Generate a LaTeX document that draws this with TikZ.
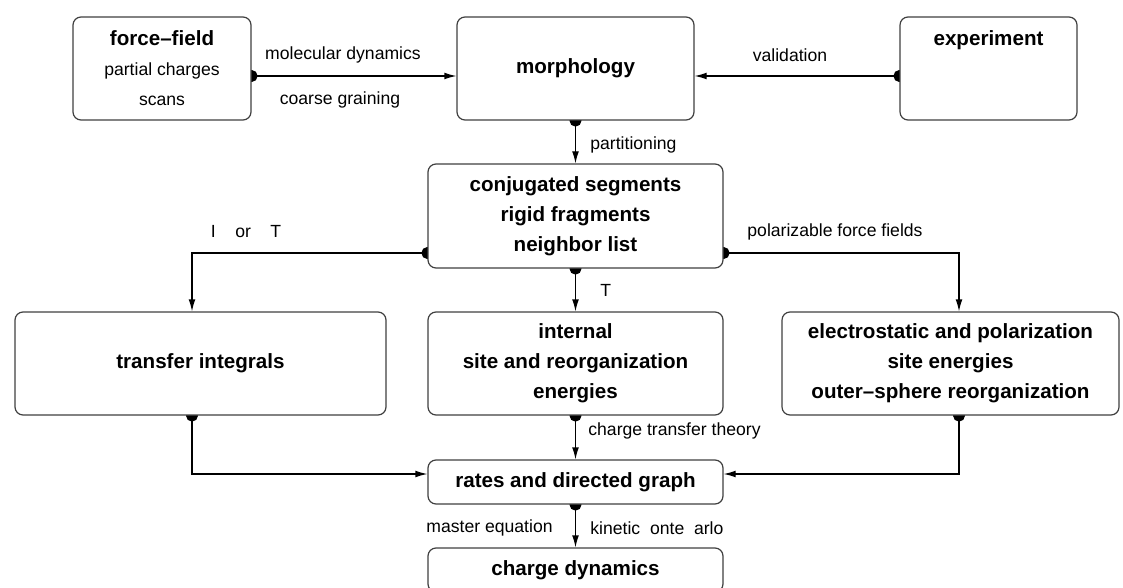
\documentclass[tikz,border=0pt]{standalone}
\usepackage{fontspec}
\setmainfont{Liberation Sans}
\usetikzlibrary{arrows.meta,calc,positioning,backgrounds}

\begin{document}
\begin{tikzpicture}[x=0.5pt,y=-0.5pt,
    box/.style={draw=black!75, line width=0.6pt, rounded corners=4pt, fill=white,
        align=center, inner sep=0pt,
        font=\fontsize{10.3}{15}\selectfont\bfseries},
    lbl/.style={inner sep=0pt, font=\fontsize{8.8}{11}\selectfont},
    conn/.style={line width=0.6pt, shorten <=-3pt,
        {Circle[length=6pt]}-{Latex[length=6pt,width=3.4pt]}}]

\def\bw{147.5pt}
\def\bh{51.5pt}
\newcommand{\plain}[1]{{\mdseries\fontsize{8.8}{15}\selectfont #1}}

\useasboundingbox (0,0) rectangle (1123,588);

% top row
\node[box, minimum width=89pt, minimum height=\bh] (ff) at (162,68.5)
    {force--field\\ \plain{partial charges}\\ \plain{scans}};
\node[box, minimum width=118.5pt, minimum height=\bh] (morph) at (575.5,68.5) {morphology};
\node[box, minimum width=88.5pt, minimum height=\bh] (exp) at (988.5,68.5)
    {experiment\\ \phantom{x}\\ \phantom{x}};

% segments
\node[box, minimum width=\bw, minimum height=52pt] (seg) at (575.5,216)
    {conjugated segments\\ rigid fragments\\ neighbor list};

% middle row
\node[box, minimum width=185.5pt, minimum height=\bh] (trans) at (200.5,363.5) {transfer integrals};
\node[box, minimum width=\bw, minimum height=\bh] (intern) at (575.5,363.5)
    {internal\\ site and reorganization\\ energies};
\node[box, minimum width=168.5pt, minimum height=\bh] (elec) at (950.5,363.5)
    {electrostatic and polarization\\ site energies\\ outer--sphere reorganization};

% bottom
\node[box, minimum width=\bw, minimum height=22pt] (rates) at (575.5,482) {rates and directed graph};
\node[box, minimum width=\bw, minimum height=22pt] (charge) at (575.5,570) {charge dynamics};

% labels
\node[lbl] (md) at (343,55) {molecular dynamics};
\node[lbl] (cg) at (340,100) {coarse graining};
\node[lbl] (val) at (790,55) {validation};
\node[lbl, anchor=west] (part) at (590,145) {partitioning};
\node[lbl] (iort) at (246,232) {I\hspace{1.1em}or\hspace{1.1em}T};
\node[lbl] (pol) at (835,232) {polarizable force fields};
\node[lbl, anchor=west] (tt) at (600,290) {T};
\node[lbl, anchor=west] (ctt) at (588,431) {charge transfer theory};
\node[lbl, anchor=east] (me) at (553,528) {master equation};
\node[lbl, anchor=west] (kmc) at (590,528) {kinetic\ \ onte\ \ arlo};

\begin{scope}[on background layer]
\draw[conn] ([yshift=-3.75pt]ff.east) -- ([yshift=-3.75pt]morph.west);
\draw[conn] ([yshift=-3.75pt]exp.west) -- ([yshift=-3.75pt]morph.east);
\draw[conn] (morph.south) -- (seg.north);
\draw[conn] ([yshift=-18.5pt]seg.west) -| ([xshift=-4.25pt]trans.north);
\draw[conn] ([yshift=-18.5pt]seg.east) -| ([xshift=4.25pt]elec.north);
\draw[conn] (seg.south) -- (intern.north);
\draw[conn] ([xshift=-4.25pt]trans.south) |- ([yshift=4pt]rates.west);
\draw[conn] ([xshift=4.25pt]elec.south) |- ([yshift=4pt]rates.east);
\draw[conn] (intern.south) -- (rates.north);
\draw[conn] (rates.south) -- (charge.north);
\end{scope}

\end{tikzpicture}
\end{document}
